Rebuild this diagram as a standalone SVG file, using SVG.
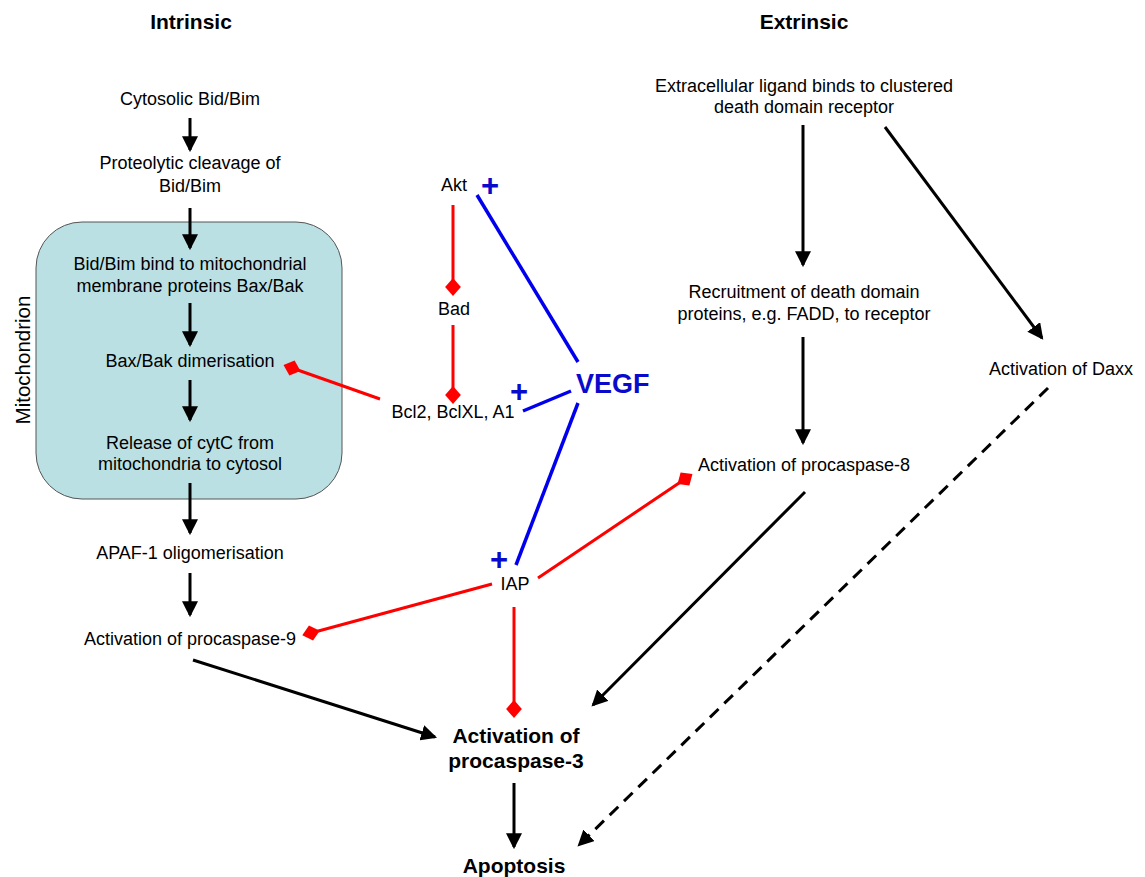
<svg xmlns="http://www.w3.org/2000/svg" width="1145" height="877" viewBox="0 0 1145 877">
  <style>
    .t { font-family: "Liberation Sans", Arial, sans-serif; font-size: 18px; fill: #000; text-anchor: middle; }
    .h { font-family: "Liberation Sans", Arial, sans-serif; font-size: 21px; font-weight: bold; fill: #000; text-anchor: middle; }
    .plus { font-family: "Liberation Sans", Arial, sans-serif; font-size: 31px; font-weight: bold; fill: #0A0ACC; text-anchor: middle; }
    .vegf { font-family: "Liberation Sans", Arial, sans-serif; font-size: 27px; font-weight: bold; fill: #0A0ACC; }
    .act { stroke: #000; stroke-width: 3; fill: none; marker-end: url(#arrow); }
    .dash { stroke: #000; stroke-width: 3; fill: none; stroke-dasharray: 12 8; marker-end: url(#arrow); }
    .inh { stroke: #FF0000; stroke-width: 3; fill: none; marker-end: url(#diamond); }
    .pos { stroke: #0000EE; stroke-width: 3.5; fill: none; }
  </style>
  <defs>
    <marker id="arrow" markerUnits="userSpaceOnUse" markerWidth="16" markerHeight="16" viewBox="0 0 15 15" refX="13" refY="7.5" orient="auto">
      <path d="M0,0 L15,7.5 L0,15 z" fill="#000"/>
    </marker>
    <marker id="diamond" markerUnits="userSpaceOnUse" markerWidth="18" markerHeight="16" viewBox="-8 -7 16 14" refX="0" refY="0" orient="auto">
      <path d="M-8,0 L0,-7 L8,0 L0,7 z" fill="#FF0000"/>
    </marker>
  </defs>

  <!-- mitochondrion compartment -->
  <g id="mitochondrion">
    <rect x="36" y="222" width="306" height="277" rx="46" ry="46" fill="#BAE0E3" stroke="#555" stroke-width="1"/>
    <text class="t" style="font-size:20.5px" transform="translate(30,360) rotate(-90)">Mitochondrion</text>
  </g>

  <!-- column headings -->
  <g id="heading-intrinsic"><text class="h" x="191" y="29">Intrinsic</text></g>
  <g id="heading-extrinsic"><text class="h" x="804" y="29">Extrinsic</text></g>

  <!-- connectors -->
  <g id="connectors">
    <!-- intrinsic chain -->
    <line class="act" x1="190" y1="118" x2="190" y2="150"/>
    <line class="act" x1="190" y1="208" x2="190" y2="248"/>
    <line class="act" x1="190" y1="303" x2="190" y2="345"/>
    <line class="act" x1="190" y1="380" x2="190" y2="420"/>
    <line class="act" x1="190" y1="483" x2="190" y2="533"/>
    <line class="act" x1="190" y1="573" x2="190" y2="615"/>
    <line class="act" x1="193" y1="660" x2="435" y2="737"/>
    <line class="act" x1="514" y1="783" x2="514" y2="847"/>
    <!-- extrinsic chain -->
    <line class="act" x1="803" y1="125" x2="803" y2="265"/>
    <line class="act" x1="885" y1="127" x2="1042" y2="338"/>
    <line class="act" x1="803" y1="337" x2="803" y2="443"/>
    <line class="act" x1="805" y1="492" x2="593" y2="705"/>
    <line class="dash" x1="1048" y1="388" x2="579" y2="845"/>
    <!-- inhibitory links -->
    <line class="inh" x1="453" y1="205" x2="453" y2="287"/>
    <line class="inh" x1="453" y1="325" x2="453" y2="395"/>
    <line class="inh" x1="380" y1="399" x2="292" y2="368"/>
    <line class="inh" x1="492" y1="584" x2="311" y2="633"/>
    <line class="inh" x1="538" y1="578" x2="685" y2="479"/>
    <line class="inh" x1="514" y1="607" x2="514" y2="709"/>
    <!-- VEGF promotion -->
    <line class="pos" x1="477" y1="195" x2="578" y2="362"/>
    <line class="pos" x1="523" y1="411" x2="571" y2="391"/>
    <line class="pos" x1="578" y1="403" x2="516" y2="565"/>
  </g>

  <!-- intrinsic nodes -->
  <g id="cytosolic-bid"><text class="t" x="190" y="105">Cytosolic Bid/Bim</text></g>
  <g id="cleavage"><text class="t" x="190" y="169">Proteolytic cleavage of</text><text class="t" x="190" y="192">Bid/Bim</text></g>
  <g id="bind-bax"><text class="t" x="190" y="270">Bid/Bim bind to mitochondrial</text><text class="t" x="190" y="292">membrane proteins Bax/Bak</text></g>
  <g id="dimerisation"><text class="t" x="190" y="367">Bax/Bak dimerisation</text></g>
  <g id="cytc-release"><text class="t" x="190" y="449">Release of cytC from</text><text class="t" x="190" y="470">mitochondria to cytosol</text></g>
  <g id="apaf1"><text class="t" x="190" y="559">APAF-1 oligomerisation</text></g>
  <g id="procaspase-9"><text class="t" x="190" y="645">Activation of procaspase-9</text></g>

  <!-- regulators -->
  <g id="akt"><text class="t" x="454" y="191">Akt</text><text class="plus" x="490" y="196">+</text></g>
  <g id="bad"><text class="t" x="454" y="315">Bad</text></g>
  <g id="bcl2"><text class="t" x="453" y="418">Bcl2, BclXL, A1</text><text class="plus" x="519" y="402">+</text></g>
  <g id="vegf"><text class="vegf" x="576" y="393">VEGF</text></g>
  <g id="iap"><text class="t" x="515" y="590">IAP</text><text class="plus" x="499" y="570">+</text></g>

  <!-- extrinsic nodes -->
  <g id="ligand"><text class="t" x="804" y="92">Extracellular ligand binds to clustered</text><text class="t" x="804" y="113">death domain receptor</text></g>
  <g id="fadd"><text class="t" x="804" y="298">Recruitment of death domain</text><text class="t" x="804" y="320">proteins, e.g. FADD, to receptor</text></g>
  <g id="procaspase-8"><text class="t" x="804" y="471">Activation of procaspase-8</text></g>
  <g id="daxx"><text class="t" x="1061" y="375">Activation of Daxx</text></g>

  <!-- convergence -->
  <g id="procaspase-3"><text class="h" x="516" y="743">Activation of</text><text class="h" x="516" y="768">procaspase-3</text></g>
  <g id="apoptosis"><text class="h" x="514" y="873">Apoptosis</text></g>
</svg>
